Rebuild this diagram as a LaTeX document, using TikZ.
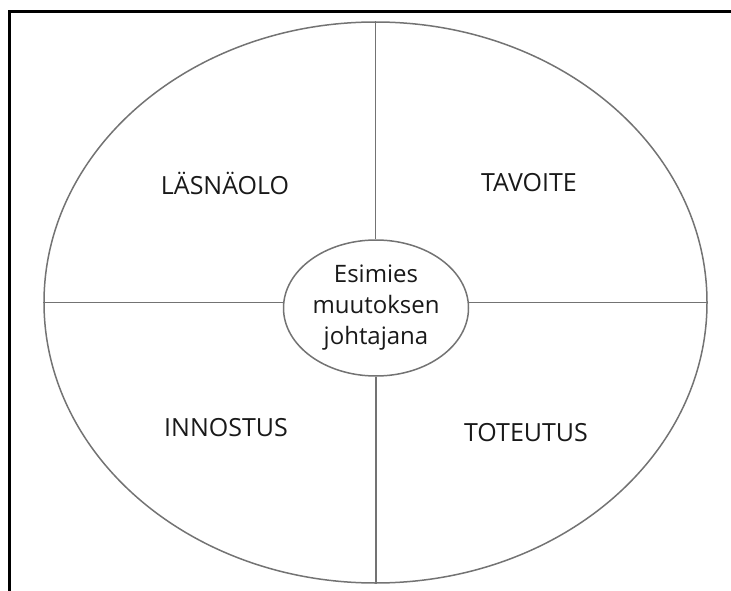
\documentclass[tikz,border=0pt]{standalone}
\usepackage{fontspec}
\setmainfont{Open Sans}
\usetikzlibrary{shapes.geometric,positioning}

\begin{document}
\begin{tikzpicture}[
    x=1pt, y=-1pt,
    ring/.style={ellipse, draw=black!55, line width=1.5pt, inner sep=0pt},
    divider/.style={draw=black!55, line width=1.5pt},
    quarter/.style={font=\fontsize{25}{28}\selectfont, text=black!90},
    frame/.style={line width=3pt, black}
]
    \useasboundingbox (0,0) rectangle (731,591);
    \draw[frame] (9.5,591) -- (9.5,11.5) -- (731,11.5);

    \node[ring, minimum width=663pt, minimum height=561pt] (outer) at (375.5,302.5) {};
    \node[ring, minimum width=185pt, minimum height=136pt, align=center,
          font=\fontsize{24}{31}\selectfont, text=black!90] (hub) at (376,308)
          {Esimies\\muutoksen\\johtajana};

    \draw[divider] (outer.north) -- (outer.north |- hub.north);
    \draw[divider] (hub.south) -- (hub.south |- outer.south);
    \draw[divider] (outer.west) -- (outer.west -| hub.west);
    \draw[divider] (outer.east -| hub.east) -- (outer.east);

    \node[quarter] (presence) at (225,183) {LÄSNÄOLO};
    \node[quarter] (goal) at (529,183) {TAVOITE};
    \node[quarter] (spirit) at (226,428) {INNOSTUS};
    \node[quarter] (action) at (526,433) {TOTEUTUS};
\end{tikzpicture}
\end{document}
